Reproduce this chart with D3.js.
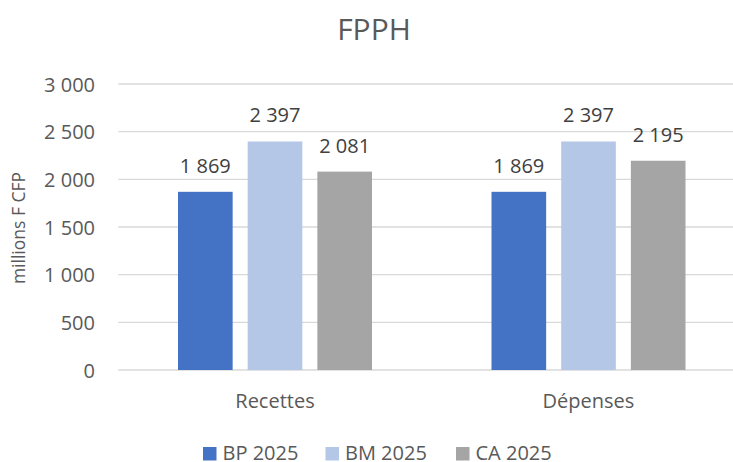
<!DOCTYPE html>
<html><head><meta charset="utf-8">
<script src="https://cdn.jsdelivr.net/npm/d3@7"></script>
<style>body{margin:0;background:#fff;}svg{display:block;font-family:"Open Sans",sans-serif;}</style>
</head><body>
<svg id="c" width="733" height="462"></svg>
<script>
const categories = ["Recettes", "Dépenses"];
const seriesNames = ["BP 2025", "BM 2025", "CA 2025"];
const bp2025 = [1869, 1869];
const bm2025 = [2397, 2397];
const ca2025 = [2081, 2195];
const yTicks = [0, 500, 1000, 1500, 2000, 2500, 3000];
const colors = ["#4472C4", "#B4C7E7", "#A5A5A5"];
const seriesValues = [bp2025, bm2025, ca2025];

const svg = d3.select("#c");
const fmt = v => d3.format(",")(v).replace(/,/g, " ");
const plotL = 118.25, plotR = 745.25, plotT = 84, plotB = 370;

const x0 = d3.scaleBand().domain(categories).range([plotL, plotR]).paddingInner(0).paddingOuter(0);
const groupW = 194;
const x1 = d3.scaleBand().domain(seriesNames).range([0, groupW]).paddingInner(15/69.5).paddingOuter(0);
const y = d3.scaleLinear().domain([0, 3000]).range([plotB, plotT]);

// gridlines
svg.append("g").selectAll("line").data(yTicks).join("line")
  .attr("x1", plotL).attr("x2", plotR)
  .attr("y1", d => y(d)).attr("y2", d => y(d))
  .attr("stroke", "#D9D9D9").attr("stroke-width", 1.3);

// y tick labels
const yAxis = d3.axisLeft(y).tickValues(yTicks).tickFormat(fmt).tickSize(0).tickPadding(0);
const ya = svg.append("g").attr("transform", "translate(95,0)").call(yAxis);
ya.select(".domain").remove();
ya.selectAll("text").attr("font-size", 20).attr("fill", "#595959")
  .attr("font-family", "Open Sans").attr("dy", "0.35em");

// bars
const groups = svg.append("g").selectAll("g").data(categories).join("g")
  .attr("transform", d => `translate(${x0(d) + (x0.bandwidth() - groupW) / 2},0)`);
groups.each(function(cat, ci) {
  const g = d3.select(this);
  seriesNames.forEach((s, si) => {
    const v = seriesValues[si][ci];
    g.append("rect")
      .attr("x", x1(s)).attr("width", x1.bandwidth())
      .attr("y", y(v)).attr("height", y(0) - y(v))
      .attr("fill", colors[si]);
    g.append("text")
      .attr("x", x1(s) + x1.bandwidth() / 2).attr("y", y(v) - 19)
      .attr("text-anchor", "middle").attr("font-size", 20).attr("fill", "#404040")
      .text(fmt(v));
  });
});

// category labels
const xAxis = d3.axisBottom(x0).tickSize(0).tickPadding(0);
const xa = svg.append("g").attr("transform", `translate(0,${plotB})`).call(xAxis);
xa.select(".domain").remove();
xa.selectAll("text").attr("font-size", 20).attr("fill", "#595959")
  .attr("font-family", "Open Sans").attr("dy", null).attr("y", 38);

// title
svg.append("text").attr("x", 374).attr("y", 40).attr("text-anchor", "middle")
  .attr("font-size", 30).attr("fill", "#595959").text("FPPH");

// y axis title
svg.append("text").attr("transform", "translate(24.5,228) rotate(-90)")
  .attr("text-anchor", "middle").attr("font-size", 17.5).attr("fill", "#595959")
  .text("millions F CFP");

// legend
const legendX = [203, 325.5, 456];
const lg = svg.append("g").selectAll("g").data(seriesNames).join("g")
  .attr("transform", (d, i) => `translate(${legendX[i]},0)`);
lg.append("rect").attr("x", 0).attr("y", 447).attr("width", 13.5).attr("height", 13.5)
  .attr("fill", (d, i) => colors[i]);
lg.append("text").attr("x", 19.5).attr("y", 460).attr("font-size", 20).attr("fill", "#595959")
  .text(d => d);
</script>
</body></html>
